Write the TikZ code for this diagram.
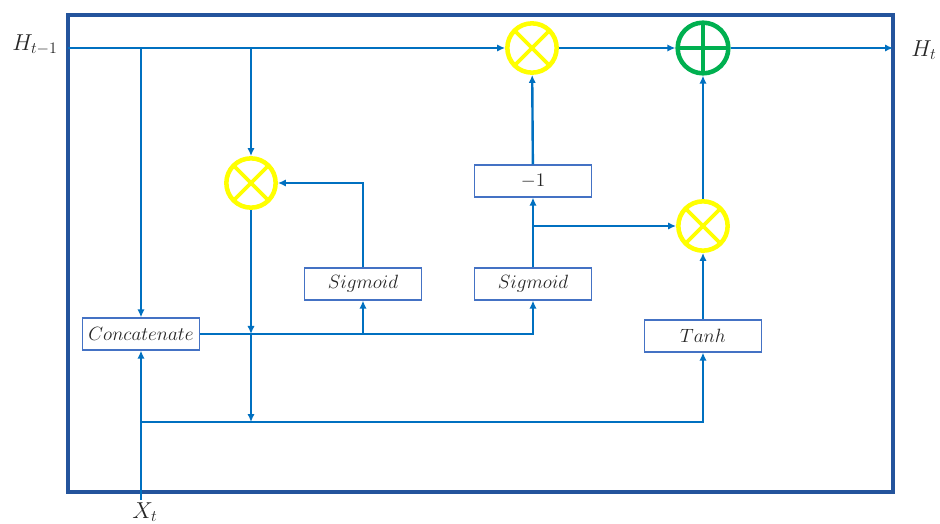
\documentclass[tikz,border=0pt]{standalone}
\usepackage{amsmath}
\usepackage{tikz}
\usetikzlibrary{arrows.meta,positioning,calc}

\definecolor{linkblue}{RGB}{0,112,192}
\definecolor{frameblue}{RGB}{36,84,156}
\definecolor{boxblue}{RGB}{68,114,196}
\definecolor{gateyellow}{RGB}{255,255,0}
\definecolor{gategreen}{RGB}{0,176,80}
\definecolor{inkgray}{RGB}{38,38,38}

\tikzset{
  link/.style={draw=linkblue,line width=1.8pt,-{Latex[length=6pt,width=5.5pt]}},
  opbox/.style={draw=boxblue,line width=0.9pt,fill=white,minimum width=87.75pt,
    minimum height=24pt,inner sep=0pt,text=inkgray,font=\fontsize{14}{16}\selectfont},
  mult/.style={circle,draw=gateyellow,line width=3.4pt,minimum size=37pt,inner sep=0pt,
    path picture={
      \draw[gateyellow,line width=2.8pt]
        (path picture bounding box.north west) -- (path picture bounding box.south east)
        (path picture bounding box.north east) -- (path picture bounding box.south west);}},
  plus/.style={circle,draw=gategreen,line width=3.4pt,minimum size=38pt,inner sep=0pt,
    path picture={
      \draw[gategreen,line width=2.8pt]
        (path picture bounding box.north) -- (path picture bounding box.south)
        (path picture bounding box.west) -- (path picture bounding box.east);}},
  label/.style={text=inkgray,font=\fontsize{17}{19}\selectfont}
}

\begin{document}
\begin{tikzpicture}[x=0.75pt,y=-0.75pt]
  \useasboundingbox (0,0) rectangle (940,524);

  % cell frame
  \draw[frameblue,line width=2.3pt] (68,15) rectangle (893,492);

  % gates and layers
  \node[opbox] (concat) at (141,334) {$Concatenate$};
  \node[opbox] (sigA) at (363,284) {$Sigmoid$};
  \node[opbox] (sigB) at (533,284) {$Sigmoid$};
  \node[opbox] (minus) at (533,181) {$-1$};
  \node[opbox] (tanh) at (703,336) {$Tanh$};

  \node[mult] (mulF) at (251,183) {};
  \node[mult] (mulT) at (532,48) {};
  \node[mult] (mulO) at (703,226) {};
  \node[plus] (add) at (703,48) {};

  % inputs and output
  \node[label] (hprev) at (35,45) {$H_{t-1}$};
  \node[label] (hnext) at (924,50) {$H_t$};
  \node[label] (xin) at (145,512) {$X_t$};

  \coordinate (hleft) at (68,48);
  \coordinate (hright) at (893,48);
  \coordinate (xfoot) at (141,500);
  \coordinate (jA) at (141,48);
  \coordinate (jB) at (251,48);
  \coordinate (jF) at (141,422);
  \coordinate (jC) at (mulF |- concat.east);
  \coordinate (jD) at (mulF |- jF);
  \coordinate (jE) at (533,226);

  % state line
  \draw[link] (hleft) -- (mulT);
  \draw[link] (mulT) -- (add);
  \draw[link] (add) -- (hright);

  \draw[link] (jA) -- (concat);
  \draw[link] (jB) -- (mulF);
  \draw[link] (mulF) -- (jC);
  \draw[link] (jC) -- (jD);

  \draw[link] (concat.east) -| (sigB);
  \draw[link] (concat.east -| sigA) -- (sigA);
  \draw[link] (sigA) |- (mulF);

  \draw[link] (sigB) -- (minus);
  \draw[link] (jE) -- (mulO);
  \draw[link] (minus) -- (mulT);

  \draw[link] (tanh) -- (mulO);
  \draw[link] (mulO) -- (add);

  % input line
  \draw[link] (xfoot) -- (concat);
  \draw[link] (jF) -| (tanh);
\end{tikzpicture}
\end{document}
